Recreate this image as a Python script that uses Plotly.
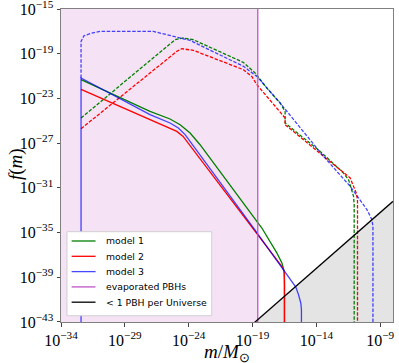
import plotly.graph_objects as go

# ---- data (log10 values) ----
m1_logm = [-32.43, -27.03, -25.46, -24.67, -23.89, -23.11, -18.27, -17.10, -16.70, -16.52, -16.50, -16.50]
m1_logf = [-21.32, -24.16, -24.84, -25.35, -26.09, -27.14, -34.59, -36.82, -37.72, -38.47, -39.66, -44.0]

m2_logm = [-32.43, -27.03, -25.46, -24.93, -24.44, -19.06, -16.99, -16.64, -16.52, -16.50, -16.50]
m2_logf = [-22.19, -24.90, -25.64, -25.95, -26.40, -34.45, -37.60, -38.14, -38.50, -39.21, -44.0]

m3_logm = [-32.43, -32.43, -27.03, -25.46, -24.81, -24.28, -18.93, -15.61, -15.40, -15.22, -15.17, -15.17]
m3_logf = [-44.0, -21.17, -24.45, -25.20, -25.64, -26.24, -34.59, -39.87, -40.55, -41.30, -41.90, -44.0]

m1d_logm = [-32.43, -25.07, -24.42, -23.63, -19.71, -18.80, -17.88, -16.84, -16.45, -16.45, -13.70, -11.88, -11.48, -11.09, -11.04, -11.04]
m1d_logf = [-24.75, -17.75, -17.59, -17.75, -19.78, -20.72, -22.07, -23.41, -24.16, -25.20, -27.74, -29.67, -30.27, -31.76, -32.50, -44.0]

m2d_logm = [-32.43, -24.93, -24.54, -23.63, -19.71, -19.06, -18.66, -16.84, -16.45, -16.45, -13.70, -11.35, -10.88, -10.78, -10.78]
m2d_logf = [-25.71, -18.79, -18.55, -18.70, -20.43, -21.03, -21.77, -24.30, -24.75, -25.35, -27.88, -30.12, -31.46, -32.06, -44.0]

m3d_logm = [-32.43, -32.43, -32.20, -31.59, -30.94, -26.77, -26.24, -24.93, -23.89, -19.71, -19.19, -18.66, -16.84, -13.44, -11.35, -10.04, -9.65, -9.57, -9.57]
m3d_logf = [-21.17, -17.90, -17.39, -17.15, -17.00, -17.00, -17.15, -17.50, -17.81, -20.13, -20.58, -21.03, -23.41, -28.18, -30.87, -32.95, -33.85, -34.45, -44.0]

evap_logm = -18.59
limit_logm = [-20.0, -8.0]
limit_logf = [-44.2, -32.2]

x_tick_exp = [-34, -29, -24, -19, -14, -9]
y_tick_exp = [-15, -19, -23, -27, -31, -35, -39, -43]

legend_names = ["model 1", "model 2", "model 3", "evaporated PBHs", "< 1 PBH per Universe"]


def p(a):
    return [10.0 ** v for v in a]


GREEN = "#008000"
RED = "#ff0000"
BLUE = "rgba(0,0,255,0.72)"
VIOLET = "#c055c8"
BLACK = "#000000"
DASH = "3.5px,1.6px"
LW = 1.3

fig = go.Figure()

# evaporated region
fig.add_trace(go.Scatter(
    x=p([-34, evap_logm, evap_logm, -34, -34]), y=p([-44, -44, -14, -14, -44]),
    fill="toself", fillcolor="rgba(191,64,191,0.15)", mode="lines",
    line=dict(width=0), showlegend=False, hoverinfo="skip"))

# < 1 PBH per Universe region
fig.add_trace(go.Scatter(
    x=p([limit_logm[0], limit_logm[1], limit_logm[1], limit_logm[0]]),
    y=p([limit_logf[0], limit_logf[1], -46, -46]),
    fill="toself", fillcolor="rgba(128,128,128,0.21)", mode="lines",
    line=dict(width=0), showlegend=False, hoverinfo="skip"))

# dashed curves
for lm, lf, c in [(m1d_logm, m1d_logf, GREEN), (m2d_logm, m2d_logf, RED), (m3d_logm, m3d_logf, BLUE)]:
    fig.add_trace(go.Scatter(x=p(lm), y=p(lf), mode="lines",
                             line=dict(color=c, width=LW, dash=DASH), showlegend=False))

# solid curves
for lm, lf, c, name in [(m1_logm, m1_logf, GREEN, legend_names[0]),
                        (m2_logm, m2_logf, RED, legend_names[1]),
                        (m3_logm, m3_logf, BLUE, legend_names[2])]:
    fig.add_trace(go.Scatter(x=p(lm), y=p(lf), mode="lines", name=name, showlegend=False,
                             line=dict(color=c, width=LW)))

fig.add_trace(go.Scatter(x=p([evap_logm, evap_logm]), y=p([-44, -14]), mode="lines",
                         name=legend_names[3], showlegend=False,
                         line=dict(color=VIOLET, width=LW)))

fig.add_trace(go.Scatter(x=p(limit_logm), y=p(limit_logf), mode="lines",
                         name=legend_names[4], showlegend=False,
                         line=dict(color=BLACK, width=LW)))

# ---- legend box drawn in paper coordinates ----
fig.add_shape(type="rect", xref="paper", yref="paper", x0=0.018, x1=0.454, y0=0.020, y1=0.2885,
              fillcolor="white", line=dict(color="#d0d0d0", width=1), layer="above")
row_y = [0.2588, 0.2099, 0.1610, 0.1121, 0.0633]
for name, c, yy in zip(legend_names, [GREEN, RED, BLUE, VIOLET, BLACK], row_y):
    fig.add_shape(type="line", xref="paper", yref="paper", x0=0.032, x1=0.104, y0=yy, y1=yy,
                  line=dict(color=c, width=LW), layer="above")
    fig.add_annotation(text=name, xref="paper", yref="paper", x=0.130, y=yy,
                       xanchor="left", yanchor="middle", showarrow=False,
                       font=dict(family="DejaVu Sans, sans-serif", size=9.3, color="black"))

tickfont = dict(family="Liberation Serif, serif", size=16, color="black")

fig.update_xaxes(type="log", range=[-34.0005, -7.9995], automargin=False,
                 tickvals=[10.0 ** e for e in x_tick_exp],
                 ticktext=["10<sup>\u2212%d</sup>" % (-e) for e in x_tick_exp],
                 tickfont=tickfont, ticks="outside", ticklen=3.5, tickcolor="#444",
                 ticklabeloverflow="allow",
                 showline=True, mirror=True, linecolor="#808080", linewidth=1,
                 showgrid=False, zeroline=False)
fig.update_yaxes(type="log", range=[-43.0005, -14.9995], automargin=False,
                 tickvals=[10.0 ** e for e in y_tick_exp],
                 ticktext=["10<sup>\u2212%d</sup>" % (-e) for e in y_tick_exp],
                 tickfont=tickfont, ticks="outside", ticklen=3.5, tickcolor="#444",
                 ticklabeloverflow="allow",
                 showline=True, mirror=True, linecolor="#808080", linewidth=1,
                 showgrid=False, zeroline=False)

fig.add_annotation(text="<i>m</i>/<i>M</i><sub>\u2299</sub>", xref="paper", yref="paper",
                   x=0.5, y=-0.098, xanchor="center", yanchor="middle", showarrow=False,
                   font=dict(family="Liberation Serif, serif", size=19, color="black"))
fig.add_annotation(text="<i>f</i>(<i>m</i>)", xref="paper", yref="paper",
                   x=-0.135, y=0.505, xanchor="center", yanchor="middle", showarrow=False,
                   textangle=-90,
                   font=dict(family="Liberation Serif, serif", size=19, color="black"))

fig.update_layout(
    width=399, height=363,
    margin=dict(l=61, r=6, t=9, b=41),
    paper_bgcolor="white", plot_bgcolor="white",
    showlegend=False,
)

fig.write_html("out.html", config={"displayModeBar": False},
               post_script="document.body.style.margin='0px';")
